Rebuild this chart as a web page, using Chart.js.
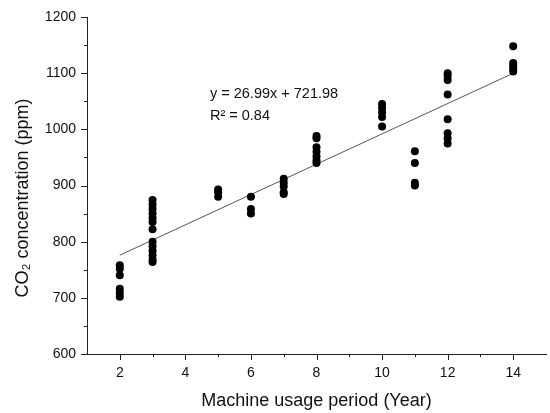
<!DOCTYPE html>
<html><head><meta charset="utf-8">
<script src="https://cdn.jsdelivr.net/npm/chart.js@4/dist/chart.umd.min.js"></script>
<style>html,body{margin:0;padding:0;background:#fff}#wrap{width:550px;height:413px;position:relative}</style>
</head><body><div id="wrap"><canvas id="c"></canvas></div>
<script>
const usageYears = [
  2,2,2,2,2,2,
  3,3,3,3,3,3,3,3,3,3,3,3,3,
  5,5,5,
  6,6,6,
  7,7,7,7,7,
  8,8,8,8,8,8,8,
  10,10,10,10,10,
  11,11,11,11,
  12,12,12,12,12,12,12,12,
  14,14,14,14,14
];
const co2Ppm = [
  758,752,740,716,709,702,
  874,866,858,850,842,835,822,800,792,784,776,768,764,
  893,888,880,
  880,858,850,
  912,905,898,888,885,
  988,984,968,960,952,945,940,
  1045,1038,1030,1022,1005,
  961,940,905,900,
  1100,1095,1088,1062,1018,993,984,975,
  1148,1118,1113,1108,1103
];
// Linear fit shown on the figure
const fitSlope = 26.99;
const fitIntercept = 721.98;
const fitRange = [2, 14];
const fitLabels = ['y = 26.99x + 721.98', 'R\u00B2 = 0.84'];
const xTickLabels = [2, 4, 6, 8, 10, 12, 14];
const yTickLabels = [600, 700, 800, 900, 1000, 1100, 1200];

const points = usageYears.map((x, i) => ({x: x, y: co2Ppm[i]}));
const fitLine = fitRange.map(x => ({x: x, y: fitSlope * x + fitIntercept}));

const FONT = 'Arial, "Liberation Sans", sans-serif';

const tickMarks = {
  id: 'tickMarks',
  afterDraw(chart) {
    const ctx = chart.ctx, xs = chart.scales.x, ys = chart.scales.y;
    ctx.save();
    ctx.strokeStyle = '#222';
    ctx.lineWidth = 1;
    xs.ticks.forEach(t => {
      if (t.value <= xs.min || t.value >= xs.max) return;
      const major = xTickLabels.includes(t.value);
      const px = Math.round(xs.getPixelForValue(t.value)) + 0.5;
      ctx.beginPath(); ctx.moveTo(px, ys.bottom); ctx.lineTo(px, ys.bottom + (major ? 6 : 3)); ctx.stroke();
    });
    ys.ticks.forEach(t => {
      const major = yTickLabels.includes(t.value);
      const py = Math.round(ys.getPixelForValue(t.value)) + 0.5;
      ctx.beginPath(); ctx.moveTo(xs.left, py); ctx.lineTo(xs.left - (major ? 6 : 3), py); ctx.stroke();
    });
    ctx.restore();
  }
};

const fitText = {
  id: 'fitText',
  afterDatasetsDraw(chart) {
    const ctx = chart.ctx, xs = chart.scales.x, ys = chart.scales.y;
    ctx.save();
    ctx.fillStyle = '#111';
    ctx.font = '14.5px ' + FONT;
    ctx.textBaseline = 'middle';
    ctx.textAlign = 'left';
    const x0 = xs.getPixelForValue(4.75);
    ctx.fillText(fitLabels[0], x0, ys.getPixelForValue(1063));
    ctx.fillText(fitLabels[1], x0, ys.getPixelForValue(1024));
    ctx.restore();
  }
};

new Chart(document.getElementById('c'), {
  data: {
    datasets: [
      {
        type: 'line',
        data: fitLine,
        borderColor: '#444',
        borderWidth: 0.9,
        pointRadius: 0,
        fill: false,
        order: 2
      },
      {
        type: 'scatter',
        data: points,
        backgroundColor: '#000',
        borderWidth: 0,
        pointRadius: 4,
        order: 1
      }
    ]
  },
  options: {
    responsive: true,
    maintainAspectRatio: false,
    animation: false,
    layout: {padding: {top: 17, right: 1, left: 0, bottom: 0}},
    plugins: {legend: {display: false}, tooltip: {enabled: false}},
    scales: {
      x: {
        type: 'linear',
        min: 1, max: 15,
        afterFit(s) { s.height = 59; s.paddingLeft = 0; s.paddingRight = 0; },
        grid: {display: false, drawTicks: false},
        border: {display: true, color: '#222', width: 1},
        ticks: {
          stepSize: 1,
          padding: 11,
          color: '#111',
          font: {family: FONT, size: 14},
          maxRotation: 0,
          autoSkip: false,
          callback: v => xTickLabels.includes(v) ? String(v) : ''
        },
        title: {
          display: true,
          text: 'Machine usage period (Year)',
          color: '#111',
          font: {family: FONT, size: 18},
          padding: {top: 0, bottom: 1}
        }
      },
      y: {
        type: 'linear',
        min: 600, max: 1200,
        afterFit(s) { s.width = 87; s.paddingTop = 0; s.paddingBottom = 0; },
        grid: {display: false, drawTicks: false},
        border: {display: true, color: '#222', width: 1},
        ticks: {
          stepSize: 50,
          padding: 11,
          color: '#111',
          font: {family: FONT, size: 14},
          autoSkip: false,
          callback: v => yTickLabels.includes(v) ? String(v) : ''
        },
        title: {
          display: true,
          text: 'CO\u2082 concentration (ppm)     ',
          color: '#111',
          font: {family: FONT, size: 18},
          padding: {top: 12, bottom: 0}
        }
      }
    }
  },
  plugins: [tickMarks, fitText]
});
</script>
</body></html>
